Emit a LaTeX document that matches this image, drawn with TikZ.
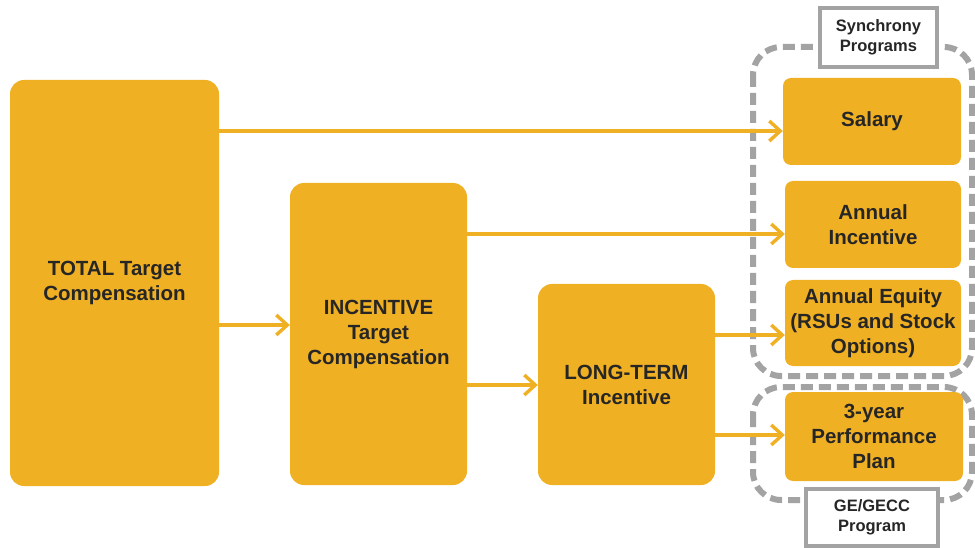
\documentclass[tikz,border=0pt]{standalone}
\usepackage{fontspec}
\setmainfont{Liberation Sans}
\usetikzlibrary{arrows.meta}
\definecolor{gold}{HTML}{F0B024}
\definecolor{dgray}{HTML}{A3A3A3}
\definecolor{txt}{HTML}{262626}
\begin{document}
\begin{tikzpicture}[x=1pt,y=-1pt,
  box/.style={fill=gold,draw=none,rounded corners=14pt,text=txt,font=\bfseries\fontsize{20.5}{25}\selectfont,align=center,inner sep=0pt},
  conn/.style={draw=gold,line width=3.4pt,-{Straight Barb[length=11pt,width=20pt,line width=3.4pt]}},
  grp/.style={draw=dgray,line width=6pt,dash pattern=on 12pt off 6pt,rounded corners=28pt},
  tag/.style={fill=white,draw=dgray,line width=3.5pt,text=txt,font=\bfseries\fontsize{16.5}{20}\selectfont,align=center,inner sep=0pt}]
\useasboundingbox (0,0) rectangle (975,548);
\begin{scope}
\clip (0,0) rectangle (975,548);
\draw[grp] (753,47) rectangle (972,376);
\draw[grp] (753,387) rectangle (972,500);
\end{scope}
\node[tag,minimum width=117pt,minimum height=59pt] (syn) at (878.5,37.5) {Synchrony\\Programs};
\node[tag,minimum width=132pt,minimum height=57pt] (ge) at (872,517.5) {GE/GECC\\Program};
\node[box,minimum width=209pt,minimum height=406pt] (total) at (114.5,283) {TOTAL Target\\Compensation};
\node[box,minimum width=177pt,minimum height=302pt] (inc) at (378.5,334) {INCENTIVE\\Target\\Compensation};
\node[box,minimum width=177pt,minimum height=201pt] (lt) at (626.5,384.5) {LONG-TERM\\Incentive};
\node[box,minimum width=178pt,minimum height=87pt,rounded corners=8pt] (sal) at (872,121.5) {Salary};
\node[box,minimum width=176pt,minimum height=87pt,rounded corners=8pt] (ai) at (873,224.5) {Annual\\Incentive};
\node[box,minimum width=176pt,minimum height=86pt,rounded corners=8pt] (ae) at (873,323) {Annual Equity\\(RSUs and Stock\\Options)};
\node[box,minimum width=178pt,minimum height=89pt,rounded corners=8pt] (py) at (874,436.5) {3-year\\Performance\\Plan};
\draw[conn] (total.east |- 0,131) -- (sal.west |- 0,131);
\draw[conn] (total.east |- 0,325) -- (inc.west |- 0,325);
\draw[conn] (inc.east |- 0,234) -- (ai.west |- 0,234);
\draw[conn] (inc.east |- 0,385) -- (lt.west |- 0,385);
\draw[conn] (lt.east |- 0,335) -- (ae.west |- 0,335);
\draw[conn] (lt.east |- 0,435) -- (py.west |- 0,435);
\end{tikzpicture}
\end{document}
